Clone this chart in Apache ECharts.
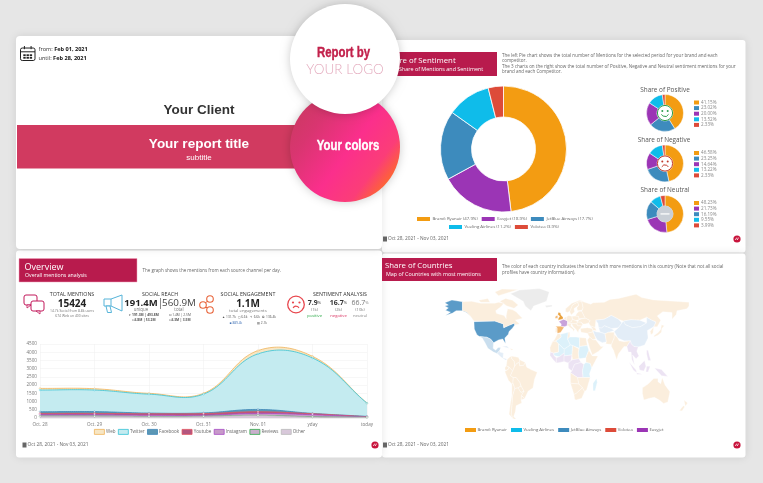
<!DOCTYPE html>
<html><head><meta charset="utf-8">
<script src="https://cdn.jsdelivr.net/npm/echarts@6/dist/echarts.min.js"></script>
<style>html,body{margin:0;padding:0;background:#e6e6e6}#c{width:763px;height:483px}</style>
</head><body><div id="c"></div>
<script>
// ---------- data ----------
const brands = ['Brand: Ryanair','Easyjet','JetBlue Airways','Vueling Airlines','Volotea'];
const brandColors = {'Brand: Ryanair':'#f39c12','Easyjet':'#9b35b5','JetBlue Airways':'#3d8bbd','Vueling Airlines':'#0fbcea','Volotea':'#dd4b39'};
const shareMentions = [47.9,18.9,17.7,11.2,3.9];
const posOrder = ['Brand: Ryanair','JetBlue Airways','Easyjet','Vueling Airlines','Volotea'];
const posValues = [41.15,23.02,20.00,13.52,2.33];
const negOrder = ['Brand: Ryanair','JetBlue Airways','Easyjet','Vueling Airlines','Volotea'];
const negValues = [46.58,23.25,14.64,13.22,2.33];
const neuOrder = ['Brand: Ryanair','Easyjet','JetBlue Airways','Vueling Airlines','Volotea'];
const neuValues = [48.23,21.73,16.19,9.55,3.99];

const days = ['Oct. 28','Oct. 29','Oct. 30','Oct. 31','Nov. 01','yday','today'];
const yTicksMax = 4500;
const channels = ['Web','Twitter','Facebook','Youtube','Instagram','Reviews','Other'];
const webVals     = [100,80,50,50,200,100,0];
const twitterVals = [1320,1310,1150,1140,3380,3370,800];
const facebookVals= [100,110,40,40,140,20,20];
const youtubeVals = [80,80,90,100,100,60,20];
const instagramVals=[90,90,80,70,120,130,20];
const reviewsVals = [10,10,10,10,10,10,0];
const otherVals   = [100,100,80,90,150,60,40];

// rough country outlines: [name, rings] in lon/lat
const landShapes = [
['United States',[[[-124.7,48.4],[-95,49],[-83,46],[-82.5,42],[-75,44.5],[-67,47],[-67,44.8],[-70,41.5],[-75,38],[-76,35],[-81,31],[-80,25.2],[-82.5,28],[-84,30],[-90,29],[-97,26],[-101,29.8],[-106.5,31.8],[-117,32.5],[-120.5,34.5],[-124.2,40.5]],
 [[-141,69.6],[-156,71.3],[-166,68.5],[-161,66],[-166,65],[-161,63],[-165,60.5],[-158,58.5],[-165,54.8],[-155,57.5],[-150,60],[-141,60],[-135,58],[-130,55],[-134,59],[-141,60.3]]]],
['Canada',[[[-141,69.6],[-128,70],[-115,68],[-95,68],[-90,69],[-82,68],[-87,64],[-94,60],[-92.5,57],[-82,55],[-79,51.5],[-79,55],[-77,62],[-70,61],[-65,59],[-60,55],[-56,52],[-66,50],[-60,46],[-67,44.8],[-67,47],[-75,44.5],[-82.5,42],[-83,46],[-95,49],[-124.7,49],[-130,54.5],[-135,58.5],[-141,60.3]],
 [[-80,73],[-70,71],[-62,66],[-68,62.5],[-78,65],[-88,70]],[[-118,71],[-105,73],[-102,69],[-115,69]],[[-90,76],[-62,82.5],[-85,83],[-95,80]]]],
['Greenland',[[[-73,78],[-60,82],[-32,83.5],[-18,80],[-22,70],[-40,65],[-44,60],[-52,65],[-55,70]]]],
['Iceland',[[[-24,65.5],[-14,66],[-14,64.5],[-22,63.5]]]],
['Mexico',[[[-117,32.5],[-106.5,31.8],[-101,29.8],[-97,26],[-97.5,20],[-94,18],[-90.5,21],[-87,21],[-88,18],[-92,14.6],[-97,16],[-105,20],[-109,26],[-113,31]]]],
['Central America',[[[-92,14.6],[-88,18],[-88,16],[-83,15],[-83.5,10],[-77.5,8.5],[-80,7.5],[-86,10.5]]]],
['Cuba',[[[-85,22],[-75,20],[-78,22.5]]]],
['Hispaniola',[[[-74,19.8],[-69,19],[-71,18]]]],
['Colombia',[[[-77.5,8.5],[-72,12],[-71,9],[-67.5,6],[-67,1],[-70,-4],[-75,0],[-79,1.5]]]],
['Venezuela',[[[-72,12],[-62,10.5],[-60,8],[-60.5,5],[-64,4],[-67,1],[-67.5,6],[-71,9]]]],
['Guianas',[[[-60,8],[-52,5],[-54,2],[-60,1.5],[-60.5,5]]]],
['Ecuador',[[[-79,1.5],[-75,0],[-75.5,-2],[-80,-3.5],[-81,-1]]]],
['Peru',[[[-81,-4.5],[-80,-3.5],[-75.5,-2],[-75,0],[-70,-4],[-73,-9],[-69,-11],[-69.5,-17],[-71,-18],[-76,-14]]]],
['Brazil',[[[-60,1.5],[-54,2],[-52,5],[-50,0],[-44,-2.5],[-35,-5.5],[-39,-13],[-41,-22],[-48,-25.5],[-53,-33.5],[-57.5,-30],[-54,-25.5],[-58,-20],[-60,-16],[-65,-11],[-69,-11],[-73,-9],[-70,-4],[-67,1],[-64,4],[-60.5,5]]]],
['Bolivia',[[[-69,-11],[-65,-11],[-60,-16],[-58,-20],[-62.5,-22],[-67,-22.8],[-69.5,-17]]]],
['Paraguay',[[[-62.5,-22],[-58,-20],[-54,-25.5],[-58,-27]]]],
['Uruguay',[[[-57.5,-30],[-53,-33.5],[-58,-34.5]]]],
['Argentina',[[[-67,-22.8],[-62.5,-22],[-58,-27],[-54,-25.5],[-57.5,-30],[-58,-34.5],[-57,-38],[-65,-41],[-66,-47],[-68.5,-52.5],[-65,-55],[-69,-55],[-72,-50],[-71,-40],[-70,-30]]]],
['Chile',[[[-69.5,-17],[-67,-22.8],[-70,-30],[-71,-40],[-72,-50],[-69,-55],[-75,-50],[-73,-38],[-71,-30],[-71,-18]]]],
['United Kingdom',[[[-5.5,50],[1.5,51.2],[1.5,53],[-1.5,55.5],[-2,57.5],[-5,58.5],[-6,56],[-3,54],[-5,52]]]],
['Ireland',[[[-10,52],[-6,52],[-6,55],[-9,54.5]]]],
['France',[[[-4.5,48.5],[2.5,51],[8,49],[7.5,44],[3,43],[-1.5,43.5],[-1,46]]]],
['Spain',[[[-9,43.5],[-1.5,43.5],[3,42.3],[-0.5,38.5],[-2,36.8],[-6,36],[-7,37.2],[-7,42]]]],
['Portugal',[[[-9.5,37],[-7,37.2],[-7,42],[-9,42]]]],
['Benelux',[[[2.5,51],[4,53],[7,53.5],[6,50]]]],
['Germany',[[[6,50],[7,53.5],[9,55],[14,54],[15,51],[13,48],[8,47.5],[8,49]]]],
['Italy',[[[7,44],[8,46.5],[13.5,46.5],[12.5,44],[18,40],[16,38],[15.5,40],[11,42.5],[8.5,44.2]]]],
['Poland',[[[14,54],[19,54.5],[23.5,54],[24,50.5],[19,49.5],[15,51]]]],
['Central Europe',[[[8,47.5],[13,48],[15,51],[19,49.5],[22,48.5],[21,46],[16,46.5],[13.5,46.5],[8,46.5]]]],
['Balkans',[[[13.5,46.5],[16,46.5],[21,46],[22.5,44],[28,44],[26,41],[24,40],[23,36.5],[20,40],[16,43]]]],
['Romania',[[[21,46],[22,48],[27,48],[29.5,45],[28,44],[22.5,44]]]],
['Ukraine',[[[24,50.5],[24,51.5],[33,52.3],[40,49.5],[38,47],[33,46],[30,45.8],[27,48],[22,48]]]],
['Baltics Belarus',[[[19,54.5],[21,57],[24,59.3],[28,59.5],[31,55],[33,52.3],[24,51.5],[23.5,54]]]],
['Norway',[[[5,59],[5,62],[14,68],[25,71],[31,70],[22,69],[15,66],[12,60],[8,58]]]],
['Sweden',[[[11,59],[12,60],[15,66],[22,69],[24,66],[17,62],[18,59],[13,55.5]]]],
['Finland',[[[22,69],[28,70],[30,63],[28,60.5],[22,60],[21,63],[24,66]]]],
['Russia',[[[28,59.5],[28,60.5],[30,63],[28,70],[41,67],[44,68.5],[60,69],[68,72],[80,73],[105,77.5],[113,74],[130,71.5],[160,70],[180,69],[180,65],[177,62],[163,60],[162,56],[156,51],[156,58],[143,59],[135,54.5],[140,50],[135,43],[130,43],[133,48],[127,50],[120,53],[110,50],[98,50.5],[87,49],[80,51],[70,55],[60,51],[48,50],[47,42],[40,44],[38,47],[40,49.5],[33,52.3],[31,55]]]],
['Turkey',[[[26,41],[36,42],[43,41],[44,37.5],[36,36],[27,37]]]],
['Caucasus',[[[40,44],[47,42],[49,39],[44,39],[43,41]]]],
['Kazakhstan',[[[48,50],[60,51],[70,55],[80,51],[85,47],[80,42],[70,41],[60,44],[56,41.5],[52,42],[51,46.5]]]],
['Central Asia',[[[52,42],[56,41.5],[60,44],[70,41],[74,39],[66,37],[61,35.5],[54,37.5]]]],
['Mongolia',[[[87,49],[98,50.5],[110,50],[120,47],[111,43],[100,42],[90,45]]]],
['China',[[[80,42],[85,47],[87,49],[90,45],[100,42],[111,43],[120,47],[120,53],[127,50],[133,48],[130,43],[121,39],[122,31],[117,23.5],[108,21.5],[102,22],[98,25],[97,28],[88,28],[79,31],[74,38]]]],
['Iran',[[[44,39],[49,37.5],[54,37],[61,35.5],[63,27],[57,26],[50,29],[46,34]]]],
['Iraq Syria',[[[36,36],[44,37.5],[46,34],[48,30],[44,29],[39,32]]]],
['Saudi Arabia',[[[36,29],[39,32],[44,29],[48,29],[55,22],[59,22],[52,17],[43,13],[39,21]]]],
['Afghanistan Pakistan',[[[61,35.5],[66,37],[74,37],[74,31],[70,24],[62,25],[63,27]]]],
['India',[[[74,35],[79,31],[81,28],[88,27],[97,28],[92,22],[88,22],[80,14],[77.5,8],[73,18],[70,22],[70,24],[74,31]]]],
['Indochina',[[[92,22],[97,28],[98,25],[102,22],[108,21.5],[106,17],[109,12],[105,9],[100,13],[103,2],[99,8],[98,16],[94,16]]]],
['Japan',[[[130,32],[136,34],[141,37],[141.5,41],[145,44],[141,45],[140,40],[136,36.5],[131,34]]]],
['Korea',[[[125,38],[130,43],[129,36],[126,34.5]]]],
['Philippines',[[[120,18],[122,18],[124,12],[126,7],[122,7],[120,14]]]],
['Indonesia',[[[95,5.5],[105,-3],[106,-6],[101,-3]],[[106,-6],[114,-7.5],[114,-8.5],[106,-7.5]],[[109,1],[117,7],[119,1],[116,-4],[110,-3]],[[119,-5],[120,1],[125,1],[122,-5]],[[131,-1],[141,-2.5],[150,-10],[141,-9],[135,-4]]]],
['Australia',[[[114,-22],[122,-18],[130,-12],[136,-12],[136,-15.5],[140,-17.5],[142,-11],[146,-19],[153,-26],[150,-37],[144,-38.5],[138,-35],[131,-32],[124,-33],[116,-35],[114,-28]]]],
['New Zealand',[[[173,-35],[178,-38],[175,-41.5],[174,-39]],[[172,-41],[174,-42],[170,-46.5],[166.5,-46]]]],
['Madagascar',[[[49,-12],[50,-16],[47,-25],[44,-25],[44,-17]]]],
['Morocco',[[[-6,36],[-2,35],[-1,32],[-8.7,27.6],[-13,27.5],[-17,21],[-14.5,26],[-10,30]]]],
['Algeria',[[[-2,35],[9,37],[8,30],[12,23.5],[3,19],[-5,25],[-8.7,27.6],[-1,32]]]],
['Tunisia',[[[9,37],[11,37],[11,32],[8,30]]]],
['Libya',[[[11,32],[20,32],[25,31.5],[25,20],[24,19.5],[15,23],[12,23.5],[8,30]]]],
['Egypt',[[[25,31.5],[34,31],[36,23],[25,22]]]],
['Sudan',[[[25,22],[36,23],[38,18],[34,10],[24,9],[23,15]]]],
['Chad',[[[15,23],[24,19.5],[23,15],[24,9],[15,8],[14,13]]]],
['Niger',[[[12,23.5],[15,23],[14,13],[3,12],[3,19]]]],
['Mali',[[[-5,25],[3,19],[3,15],[-4,11],[-11.5,12.5],[-12,15],[-5,16]]]],
['Mauritania',[[[-17,21],[-13,27.5],[-8.7,27.6],[-5,25],[-5,16],[-12,15],[-16.5,16]]]],
['West Coast',[[[-16.5,16],[-12,15],[-11.5,12.5],[-8,10],[-8,4.5],[-13,8.5],[-17,12.5]]]],
['Gulf States',[[[-8,10],[-4,11],[3,15],[3,12],[3,6],[-3,5],[-8,4.5]]]],
['Nigeria',[[[3,12],[14,13],[13,7],[9,4.5],[3,6]]]],
['Cameroon Gabon CAR',[[[9,4.5],[13,7],[15,8],[24,9],[27,5],[18,3],[14,-4],[9,-1]]]],
['DR Congo',[[[18,3],[27,5],[31,3],[29,-4],[30,-11],[22,-11],[12,-6],[14,-4]]]],
['Horn',[[[34,10],[38,18],[43,12],[51,12],[42,-1],[40,4],[34,5]]]],
['East Africa',[[[31,3],[34,5],[40,4],[42,-1],[39,-7],[40,-11],[30,-11],[29,-4]]]],
['Angola',[[[12,-6],[22,-11],[24,-18],[12,-17]]]],
['Southeast Africa',[[[22,-11],[30,-11],[40,-11],[35,-24],[32,-26],[29,-22],[24,-18]]]],
['Namibia Botswana',[[[12,-17],[24,-18],[29,-22],[20,-28],[17,-29]]]],
['South Africa',[[[17,-29],[20,-28],[29,-22],[32,-26],[28,-33],[20,-35],[18,-34]]]]
];
const ryanairSolid = ['United Kingdom'];
const ryanairMid = ['Spain','Ireland'];
const jetblueSolid = ['United States'];
const jetblueLight = ['Mexico'];
const easyjetSolid = ['France'];
const easyjetLight = ['Indonesia','Philippines','West Coast','Nigeria','DR Congo','Cameroon Gabon CAR','Indochina','Gulf States'];
const vuelingLight = ['Algeria','Libya','Sudan','Mali','Niger','Madagascar','East Africa'];
const chinaLight = ['China','Mongolia','Kazakhstan','Central Asia','Iran','Central America','Cuba'];
const noData = ['Greenland','Iceland'];

// ---------- helpers ----------
const FF='"Open Sans",sans-serif', AR='"Liberation Sans",Arial,sans-serif';
function T(x,y,text,size,color,opt){opt=opt||{};return {type:'text',z:opt.z||5,x:x,y:y,scaleX:opt.sx||1,silent:true,style:{text:text,fontSize:size,fill:color,fontFamily:opt.ff||FF,fontWeight:opt.w||'normal',align:opt.a||'left',verticalAlign:'middle',rich:opt.rich,opacity:opt.op==null?1:opt.op,stroke:opt.st||null,lineWidth:opt.stw||0}};}
function R(x,y,w,h,fill,opt){opt=opt||{};return {type:'rect',z:opt.z||1,silent:true,shape:{x:x,y:y,width:w,height:h,r:opt.r||0},style:Object.assign({fill:fill,stroke:opt.stroke||null,lineWidth:opt.lw||0},opt.style||{})};}
function C(x,y,r,fill,opt){opt=opt||{};return {type:'circle',z:opt.z||6,silent:true,shape:{cx:x,cy:y,r:r},style:Object.assign({fill:fill,stroke:opt.stroke||null,lineWidth:opt.lw||0},opt.style||{})};}
function L(x1,y1,x2,y2,color,lw,z){return {type:'line',z:z||6,silent:true,shape:{x1:x1,y1:y1,x2:x2,y2:y2},style:{stroke:color,lineWidth:lw}};}
function P(points,fill,stroke,lw,z){return {type:'polygon',z:z||6,silent:true,shape:{points:points},style:{fill:fill,stroke:stroke,lineWidth:lw}};}
function A(x,y,r,s,e,color,lw,z){return {type:'arc',z:z||7,silent:true,shape:{cx:x,cy:y,r:r,startAngle:s,endAngle:e,clockwise:true},style:{stroke:color,lineWidth:lw,fill:null}};}
const panelShadow={shadowBlur:8,shadowColor:'rgba(0,0,0,.10)'};
const els=[];
// panels
els.push(R(382,40,363.5,212.5,'#fff',{z:-5,r:3,style:panelShadow}));
els.push(R(382,253.5,363.5,204,'#fff',{z:-5,r:3,style:panelShadow}));
els.push(R(16,250.5,366,207,'#fff',{z:-5,r:3,style:panelShadow}));
els.push(R(16,36,366,213,'#fff',{z:-4,r:4,style:panelShadow}));
// cover
function cal(x,y,s,col,lw){return [R(x,y+s*.14,s,s*.86,'#fff',{z:5,r:s*.12,stroke:col,lw:lw}),L(x,y+s*.4,x+s,y+s*.4,col,lw),L(x+s*.27,y,x+s*.27,y+s*.22,col,lw),L(x+s*.73,y,x+s*.73,y+s*.22,col,lw)];}
els.push(...cal(20.5,46,14.5,'#222',1));
for(let r=0;r<2;r++)for(let c=0;c<3;c++)els.push(R(23.3+c*3.2,54.3+r*2.6,2.4,1.8,'#222',{z:6}));
const dateRich={a:{fontSize:5.6,fill:'#333',fontFamily:FF},b:{fontSize:5.6,fill:'#111',fontWeight:'bold',fontFamily:FF}};
els.push(T(38.5,49.5,'{a|from: }{b|Feb 01, 2021}',5.6,'#333',{rich:dateRich}));
els.push(T(38.5,58,'{a|until: }{b|Feb 28, 2021}',5.6,'#333',{rich:dateRich}));
els.push(T(199,110,'Your Client',13.5,'#333',{a:'center',w:'bold',ff:AR}));
els.push(R(17,125,290,43.5,'#d13a60',{z:2}));
els.push(T(199,144.5,'Your report title',13.5,'#fff',{a:'center',w:'bold',ff:AR,z:3}));
els.push(T(199,157.5,'subtitle',8,'#fff',{a:'center',ff:AR,z:3}));
// section headers
els.push(R(382,52,115,24,'#b81b4d',{z:2}));
els.push(T(386,60.5,'Share of Sentiment',7.8,'#fff',{z:3}));
els.push(T(399,69,'Share of Mentions and Sentiment',5.4,'#fff',{z:3}));
els.push(R(382,258,115,23,'#b81b4d',{z:2}));
els.push(T(385,266,'Share of Countries',7.8,'#fff',{z:3}));
els.push(T(386,274,'Map of Countries with most mentions',5.4,'#fff',{z:3}));
els.push(R(19,258.5,118,23.5,'#b81b4d',{z:2,stroke:'#f3a0ba',lw:.5}));
els.push(T(24.5,267,'Overview',9,'#fff',{z:3}));
els.push(T(25,276,'Overall mentions analysis',5.2,'#fff',{z:3}));
const G='#666';
els.push(T(142.5,270.5,'The graph shows the mentions from each source channel per day.',4.5,G));
els.push(T(502,55.5,'The left Pie chart shows the total number of Mentions for the selected period for your brand and each',4.55,G));
els.push(T(502,61,'competitor.',4.55,G));
els.push(T(502,66.5,'The 3 charts on the right show the total number of Positive, Negative and Neutral sentiment mentions for your',4.55,G));
els.push(T(502,72,'brand and each Competitor.',4.55,G));
els.push(T(502,266.5,'The color of each country indicates the brand with more mentions in this country (Note that not all social',4.55,G));
els.push(T(502,272.5,'profiles have country information).',4.55,G));
// footers
function footer(x,y,lx){
  els.push(R(x,y-2.5,4,5,'#666',{z:4}));
  els.push(T(x+5,y,'Oct 28, 2021 - Nov 03, 2021',4.8,'#666'));
  els.push(C(lx,y,3.6,'#c8143c',{z:5}));
  els.push(L(lx-1.6,y+1,lx-.2,y-1.4,'#fff',.8),L(lx+.2,y+1,lx+1.6,y-1.4,'#fff',.8));
}
footer(383,239,737); footer(22.5,445,375); footer(383,445,737);
// stats row
const D='#333', SM='#777';
const pk='#c2185b';
els.push(R(24,295,13,10,'#fff',{z:5,r:2,stroke:pk,lw:1}));
els.push(P([[27,305],[27,308],[31,305]],'#fff',pk,.8));
els.push(R(31,301,13,10,'#fff',{z:6,r:2,stroke:pk,lw:1}));
els.push(P([[40,311],[40,314],[36,311]],'#fff',pk,.8,7));
els.push(T(72,294.5,'TOTAL MENTIONS',5.3,D,{a:'center'}));
els.push(T(72,304,'15424',10,'#222',{a:'center',w:'bold'}));
els.push(T(72,311,'14.7k Social from 8.8k users',3.4,SM,{a:'center'}));
els.push(T(72,316.5,'674 Web on 400 sites',3.4,SM,{a:'center'}));
const bl='#56b4d9';
els.push(P([[104,299],[111,299],[122,295],[122,311],[111,306],[104,306]],'#fff',bl,1));
els.push(L(111,299,111,306,bl,1));
els.push(P([[106,306],[110,306],[111.5,312.5],[107.5,312.5]],'#fff',bl,1));
els.push(T(160,294.5,'SOCIAL REACH',5.3,D,{a:'center'}));
els.push(T(141,303,'191.4M',9.5,'#222',{a:'center',w:'bold'}));
els.push(T(160.5,303,'|',10,'#555',{a:'center'}));
els.push(T(179,303,'560.9M',9.8,'#444',{a:'center'}));
els.push(T(141,309.5,'unique',4.4,SM,{a:'center'}));
els.push(T(179,309.5,'total',4.4,SM,{a:'center'}));
els.push(T(144,315,'▾ 191.3M | 493.8M',3.3,'#555',{a:'center',w:'bold'}));
els.push(T(180,315,'⊡1.4M | 2.5M',3.3,'#555',{a:'center'}));
els.push(T(144,320.5,'◘3.8M | 53.2M',3.3,'#555',{a:'center',w:'bold'}));
els.push(T(180,320.5,'◘3.3M | 3.5M',3.3,'#555',{a:'center',w:'bold'}));
const or='#e8643a';
els.push(L(203,305,210,299,or,1),L(203,305,210,310,or,1));
els.push(C(203,305,3.3,'#fff',{stroke:or,lw:1.1,z:7}),C(210,299,3.3,'#fff',{stroke:or,lw:1.1,z:7}),C(210,310,3.3,'#fff',{stroke:or,lw:1.1,z:7}));
els.push(T(248,294.5,'SOCIAL ENGAGEMENT',5.3,D,{a:'center'}));
els.push(T(248,304,'1.1M',10,'#222',{a:'center',w:'bold'}));
els.push(T(248,311,'total engagements',4.3,SM,{a:'center'}));
els.push(T(249,317.5,'▲ 131.7k   ◻ 6.6k   ↰ 6.6k   ✪ 136.4k',3.2,'#555',{a:'center'}));
els.push(T(236,323,'■ 889.4k',3.2,'#3d6fb4',{a:'center'}));
els.push(T(262,323,'▤ 2.1k',3.2,'#555',{a:'center'}));
const rd='#e8474e';
els.push(C(296,304.5,8.3,'#fff',{stroke:rd,lw:1.3}));
els.push(C(293,302.5,1.1,rd,{z:7}),C(299.5,302.5,1.1,rd,{z:7}));
els.push(A(296,309.5,3.3,Math.PI*1.15,Math.PI*1.85,rd,1.1));
els.push(T(340,294.5,'SENTIMENT ANALYSIS',5.3,D,{a:'center'}));
const pct={a:{fontSize:7,fill:'#333',fontWeight:'bold',fontFamily:FF},b:{fontSize:4,fill:'#333',fontFamily:FF}};
const pctLight={a:{fontSize:7,fill:'#777',fontFamily:FF},b:{fontSize:4,fill:'#777',fontFamily:FF}};
[[314.5,'7.9','(1k)','positive','#2eaa4a',pct],[338.5,'16.7','(2k)','negative','#d9305f',pct],[360,'66.7','(10k)','neutral','#888',pctLight]].forEach(a=>{
  els.push(T(a[0],303,'{a|'+a[1]+'}{b|%}',7,'#333',{a:'center',rich:a[5]}));
  els.push(T(a[0],310,a[2],4.2,SM,{a:'center'}));
  els.push(T(a[0],316,a[3],4.2,a[4],{a:'center'}));
});
// small pie titles + faces
els.push(T(665,90,'Share of Positive',6.4,'#555',{a:'center'}));
els.push(T(664,140,'Share of Negative',6.4,'#555',{a:'center'}));
els.push(T(665,190.5,'Share of Neutral',6.4,'#555',{a:'center'}));
const gr='#2e9e4f';
els.push(C(665,113,7.6,'#fff',{stroke:gr,lw:1,z:8}));
els.push(C(662.3,111,1,gr,{z:9}),C(667.7,111,1,gr,{z:9}));
els.push(A(665,112.5,4,Math.PI*.15,Math.PI*.85,gr,1,9));
els.push(C(665,163.5,7.6,'#fff',{stroke:'#c0392b',lw:1,z:8}));
els.push(C(662.3,161.5,1,'#c0392b',{z:9}),C(667.7,161.5,1,'#c0392b',{z:9}));
els.push(A(665,168.5,3.6,Math.PI*1.15,Math.PI*1.85,'#c0392b',1,9));
els.push(C(665,214,8.3,'#c9cfd6',{z:8}));
els.push(R(660.5,213,9,1.8,'#eef0f2',{z:9}));
// overlay circles
const TOP=60;
els.push({type:'circle',z:TOP,silent:true,shape:{cx:345,cy:147,r:55},style:{fill:new echarts.graphic.LinearGradient(0,.1,1,.85,[{offset:0,color:'#c93a5f'},{offset:.25,color:'#d93570'},{offset:.55,color:'#fb2f8c'},{offset:.78,color:'#fb3d78'},{offset:1,color:'#ff7d0a'}]),shadowBlur:10,shadowColor:'rgba(0,0,0,.2)'}});
els.push({type:'circle',z:TOP+1,silent:true,shape:{cx:345,cy:59,r:55},style:{fill:'#fff',shadowBlur:10,shadowColor:'rgba(0,0,0,.2)'}});
els.push(T(343.5,52.5,'Report by',15,'#c2214b',{a:'center',w:'bold',ff:AR,z:TOP+2,sx:.76,st:'#c2214b',stw:.4}));
els.push(T(345,70,'YOUR LOGO',13.5,'#e3a9bc',{a:'center',w:'300',ff:'Lato,sans-serif',z:TOP+2}));
els.push(T(348,146,'Your colors',15,'#fff',{a:'center',w:'bold',ff:AR,z:TOP+2,sx:.76,st:'#fff',stw:.4}));

// map registration
const toneOf={};
const tones=[[ryanairSolid,'#e9a03c'],[ryanairMid,'#f3b872'],[jetblueSolid,'#5b9bc8'],[jetblueLight,'#c9deee'],[easyjetSolid,'#c8a2da'],[easyjetLight,'#ece3f3'],[vuelingLight,'#dcf1fa'],[chinaLight,'#e3edf7'],[noData,'#ececec']];
tones.forEach(t=>t[0].forEach(n=>toneOf[n]=t[1]));
const geo={type:'FeatureCollection',features:landShapes.map(s=>({type:'Feature',properties:{name:s[0]},geometry:{type:'MultiPolygon',coordinates:s[1].map(r=>[r])}}))};
echarts.registerMap('world',geo);
const mapData=landShapes.map(s=>({name:s[0],value:1,itemStyle:{areaColor:toneOf[s[0]]||'#fbeedd'}}));

// ---------- spline channel series (Chart.js style cubic interpolation, tension .4) ----------
const chanColors={Web:['#f0b45a','#f7e6c4'],Twitter:['#35c3d6','#c4ebf0'],Facebook:['#3d86b8','#5b97b5'],Youtube:['#e25762','#b4567f'],Instagram:['#a84cc4','#c79ac9'],Reviews:['#2eaa4a','#c9b0cc'],Other:['#b9b9b9','#d8c8da']};
const chanVals={Web:webVals,Twitter:twitterVals,Facebook:facebookVals,Youtube:youtubeVals,Instagram:instagramVals,Reviews:reviewsVals,Other:otherVals};
const stackOrder=['Other','Reviews','Instagram','Youtube','Facebook','Twitter','Web'];
const stackTops={};
{let run=days.map(()=>0);stackOrder.forEach(n=>{run=run.map((v,i)=>v+chanVals[n][i]);stackTops[n]=run.slice();});}
function spline(pts){
  const t=.4,out=[];
  const cp=pts.map((p,i)=>{
    const a=pts[i-1]||p,b=pts[i+1]||p;
    const d1=Math.hypot(p[0]-a[0],p[1]-a[1]),d2=Math.hypot(b[0]-p[0],b[1]-p[1]),s=d1+d2||1;
    const dx=b[0]-a[0],dy=b[1]-a[1];
    return {p:[p[0]-t*d1/s*dx,p[1]-t*d1/s*dy],n:[p[0]+t*d2/s*dx,p[1]+t*d2/s*dy]};
  });
  for(let i=0;i<pts.length-1;i++){
    const P0=pts[i],P1=cp[i].n,P2=cp[i+1].p,P3=pts[i+1];
    for(let k=0;k<24;k++){const u=k/24,v=1-u;
      out.push([v*v*v*P0[0]+3*v*v*u*P1[0]+3*v*u*u*P2[0]+u*u*u*P3[0],v*v*v*P0[1]+3*v*v*u*P1[1]+3*v*u*u*P2[1]+u*u*u*P3[1]]);}
  }
  out.push(pts[pts.length-1]);
  return out;
}
function channelSeries(n){
  const tops=stackTops[n],col=chanColors[n];
  return {type:'custom',name:n,silent:true,coordinateSystem:'cartesian2d',clip:false,z:4,
    encode:{x:0,y:1},data:tops.map((v,i)=>[i,v]),
    renderItem:(params,api)=>{
      const kids=[];
      const me=api.coord([api.value(0),api.value(1)]);
      if(params.dataIndex===0){
        const pts=tops.map((v,i)=>api.coord([i,v]));
        const curve=spline(pts);
        const base=api.coord([0,0])[1];
        const area=curve.concat([[curve[curve.length-1][0],base],[curve[0][0],base]]);
        kids.push({type:'polygon',shape:{points:area},style:{fill:col[1],stroke:null}});
        kids.push({type:'polyline',shape:{points:curve},style:{stroke:col[0],lineWidth:.8,fill:null}});
      }
      kids.push({type:'circle',z2:5,shape:{cx:me[0],cy:me[1],r:.8},style:{fill:'#fff',stroke:col[0],lineWidth:.4}});
      return {type:'group',children:kids};
    }};
}

// ---------- chart ----------
const chart=echarts.init(document.getElementById('c'),null,{renderer:'canvas'});
const nameTxt=(vals,order)=>n=>{const i=order.indexOf(n);return vals[i].toFixed(2)+'%';};
function pie(cx,cy,ro,ri,order,vals,z,bw){return {type:'pie',silent:true,center:[cx,cy],radius:[ri,ro],startAngle:90,clockwise:true,z:z||3,label:{show:false},labelLine:{show:false},emphasis:{disabled:true},animation:false,
  data:order.map((n,i)=>({name:n,value:vals[i],itemStyle:{color:brandColors[n],borderColor:'#fff',borderWidth:bw==null?.8:bw}}))};}
const noBorder={borderWidth:0};
function miniLegend(top,order,vals){return {left:694,top:top,orient:'vertical',data:order,itemWidth:5,itemHeight:4,itemGap:.6,icon:'rect',selectedMode:false,padding:0,itemStyle:noBorder,
  formatter:nameTxt(vals,order),textStyle:{fontSize:4.6,color:'#888',fontFamily:FF,padding:[0,0,0,-3]}};}
const mainTxt=n=>{const i=brands.indexOf(n);return n+' ('+shareMentions[i]+'%)';};
const bigLeg={itemWidth:13,itemHeight:4,itemGap:4,icon:'rect',selectedMode:false,padding:0,itemStyle:noBorder,textStyle:{fontSize:4.3,color:'#666',fontFamily:FF,padding:[0,0,0,-2.5]}};

chart.setOption({
  animation:false,
  backgroundColor:'#e6e6e6',
  graphic:{elements:els},
  legend:[
    Object.assign({},bigLeg,{left:417,top:217,data:brands.slice(0,3),formatter:mainTxt}),
    Object.assign({},bigLeg,{left:449,top:225,data:brands.slice(3),formatter:mainTxt}),
    miniLegend(100,posOrder,posValues),
    miniLegend(150.5,negOrder,negValues),
    miniLegend(200.5,neuOrder,neuValues),
    {left:465,top:428,data:[brands[0],brands[3],brands[2],brands[4],brands[1]],itemWidth:11,itemHeight:4,itemGap:4,icon:'rect',selectedMode:false,padding:0,itemStyle:noBorder,textStyle:{fontSize:4.3,color:'#666',fontFamily:FF,padding:[0,0,0,-3.5]}},
    {left:94,top:429,data:channels.map(n=>({name:n,icon:'rect',itemStyle:{color:chanColors[n][1],borderColor:chanColors[n][0],borderWidth:.8,opacity:1}})),itemWidth:10,itemHeight:5,itemGap:2.5,selectedMode:false,padding:0,textStyle:{fontSize:4.5,color:'#666',fontFamily:FF,padding:[0,0,0,-3.4]}}
  ],
  grid:{left:40,right:763-367,top:344,bottom:483-418,containLabel:false},
  xAxis:{type:'category',boundaryGap:false,data:days,axisLine:{lineStyle:{color:'#e6e6e6',width:.5}},axisTick:{show:false},splitLine:{show:true,lineStyle:{color:'#eeeeee',width:.5}},axisLabel:{fontSize:4.6,color:'#777',fontFamily:FF,margin:4,interval:0,showMinLabel:true,showMaxLabel:true}},
  yAxis:{type:'value',min:0,max:yTicksMax,interval:500,axisLine:{show:false},axisTick:{show:false},splitLine:{lineStyle:{color:'#eeeeee',width:.5}},axisLabel:{fontSize:4.6,color:'#777',fontFamily:FF,margin:3,formatter:v=>String(v)}},
  series:[
    pie(503.5,149,63,32,brands,shareMentions),
    pie(665,113,18.5,8,posOrder,posValues,3,.5),
    pie(665,163.5,18.5,8,negOrder,negValues,3,.5),
    pie(665,214,18.5,8,neuOrder,neuValues,3,.5),
    {type:'map',map:'world',silent:true,showLegendSymbol:false,aspectScale:.75,boundingCoords:[[-170,84],[180,-56]],layoutCenter:[565.5,354],layoutSize:247,roam:false,z:3,
      label:{show:false},emphasis:{disabled:true},select:{disabled:true},
      itemStyle:{borderColor:'#fff',borderWidth:.35,areaColor:'#fbeedd'},data:mapData},
    channelSeries('Web'),channelSeries('Twitter'),channelSeries('Facebook'),channelSeries('Youtube'),channelSeries('Instagram'),channelSeries('Reviews'),channelSeries('Other')
  ]
});
</script></body></html>
